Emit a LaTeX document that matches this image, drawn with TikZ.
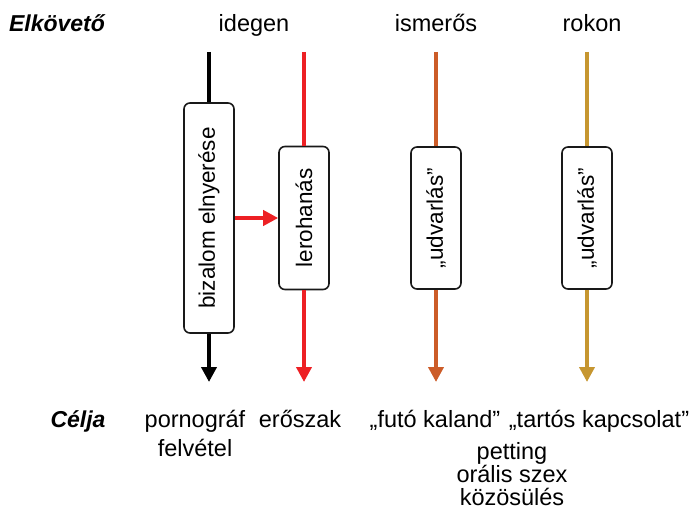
\documentclass[tikz,border=0pt]{standalone}
\usepackage{fontspec}
\setmainfont{Liberation Sans}
\usetikzlibrary{arrows.meta}
\definecolor{idegenred}{RGB}{237,32,36}
\definecolor{ismerosorange}{RGB}{204,92,40}
\definecolor{rokongold}{RGB}{198,150,48}
\tikzset{
  txt/.style={anchor=base, inner sep=0pt, font=\fontsize{23.5}{27}\selectfont},
  head/.style={txt, font=\fontsize{23}{27}\selectfont\bfseries\itshape},
  phase/.style={draw=black!90, line width=1.6pt, rounded corners=6pt, fill=white,
    rotate=90, inner sep=0pt, minimum height=50pt},
  track/.style={line width=4pt},
  tip/.style={-{Triangle[width=15pt,length=15pt]}}
}
\begin{document}
\begin{tikzpicture}[x=1pt, y=-1pt, font=\fontsize{22.5}{26}\selectfont]
  \useasboundingbox (0,0) rectangle (693,511);
  % fejlec
  \node[head] (elkoveto) at (57,32) {Elkövető};
  \node[txt] (idegen) at (254,32) {idegen};
  \node[txt] (ismeros) at (436,32) {ismerős};
  \node[txt] (rokon) at (592,32) {rokon};
  % szakaszok
  \node[phase, minimum width=230pt] (bizalom) at (209,218) {bizalom elnyerése};
  \node[phase, minimum width=143pt] (lerohanas) at (304,218) {lerohanás};
  \node[phase, minimum width=142pt] (udvarlas1) at (436,218) {„udvarlás”};
  \node[phase, minimum width=142pt] (udvarlas2) at (587,218) {„udvarlás”};
  \coordinate (blacktop) at (209,52);
  \coordinate (blackend) at (209,382);
  \coordinate (redtop) at (304,52);
  \coordinate (redend) at (304,382);
  \coordinate (orangetop) at (436,52);
  \coordinate (orangeend) at (436,382);
  \coordinate (goldtop) at (587,52);
  \coordinate (goldend) at (587,382);
  \begin{scope}[track]
    \draw[black] (blacktop) -- (bizalom);
    \draw[black, tip] (bizalom) -- (blackend);
    \draw[idegenred] (redtop) -- (lerohanas);
    \draw[idegenred, tip] (lerohanas) -- (redend);
    \draw[idegenred, tip] (bizalom) -- (lerohanas);
    \draw[ismerosorange] (orangetop) -- (udvarlas1);
    \draw[ismerosorange, tip] (udvarlas1) -- (orangeend);
    \draw[rokongold] (goldtop) -- (udvarlas2);
    \draw[rokongold, tip] (udvarlas2) -- (goldend);
  \end{scope}
  % celok
  \node[head] (celja) at (78,427) {Célja};
  \node[txt] (pornograf) at (195,427) {pornográf};
  \node[txt] (felvetel) at (195,456) {felvétel};
  \node[txt] (eroszak) at (300,427) {erőszak};
  \node[txt] (futo) at (435,427) {„futó kaland”};
  \node[txt] (tartos) at (599,427) {„tartós kapcsolat”};
  \node[txt] (petting) at (512,459) {petting};
  \node[txt] (oralis) at (512,482) {orális szex};
  \node[txt] (kozosules) at (512,505) {közösülés};
\end{tikzpicture}
\end{document}
